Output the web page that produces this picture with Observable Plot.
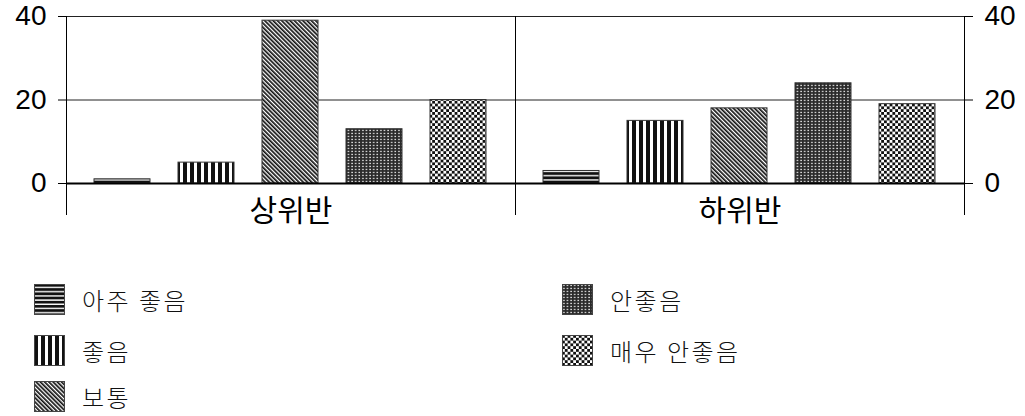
<!DOCTYPE html>
<html>
<head>
<meta charset="utf-8">
<script src="https://cdn.jsdelivr.net/npm/d3@7"></script>
<script src="https://cdn.jsdelivr.net/npm/@observablehq/plot@0.6"></script>
<style>
  html, body { margin: 0; padding: 0; background: #fff; }
  #wrap { position: relative; width: 1025px; height: 416px; overflow: hidden; }
  #legend { position: absolute; left: 0; top: 0; width: 1025px; height: 416px; pointer-events: none; }
  .item { position: absolute; display: flex; align-items: center; }
  .item svg { display: block; }
  .item span { font-family: "Noto Sans CJK KR", "Noto Sans", sans-serif; font-weight: 300; font-size: 24px; letter-spacing: 2.5px; color: #111; margin-left: 17px; line-height: 1; }
</style>
</head>
<body>
<svg width="0" height="0" style="position:absolute">
  <defs>
    <pattern id="p0" patternUnits="userSpaceOnUse" width="8" height="4.2">
      <rect width="8" height="4.2" fill="#fff"/>
      <rect y="0" width="8" height="2.8" fill="#111"/>
    </pattern>
    <pattern id="p1" patternUnits="userSpaceOnUse" width="7" height="8">
      <rect width="7" height="8" fill="#fff"/>
      <rect x="0" width="4" height="8" fill="#111"/>
    </pattern>
    <pattern id="p2" patternUnits="userSpaceOnUse" width="3" height="8" patternTransform="rotate(-45)">
      <rect width="3" height="8" fill="#fff"/>
      <rect width="1.7" height="8" fill="#111"/>
    </pattern>
    <pattern id="p3" patternUnits="userSpaceOnUse" width="3.6" height="3">
      <rect width="3.6" height="3" fill="#2a2a2a"/>
      <rect x="1.2" y="0.8" width="1.4" height="1.3" fill="#f4f4f4"/>
    </pattern>
    <pattern id="p4" patternUnits="userSpaceOnUse" width="5.6" height="5.6">
      <rect width="5.6" height="5.6" fill="#fff"/>
      <rect width="2.8" height="2.8" fill="#111"/>
      <rect x="2.8" y="2.8" width="2.8" height="2.8" fill="#111"/>
    </pattern>
  </defs>
</svg>
<div id="wrap">
  <div id="chart"></div>
  <div id="legend"></div>
</div>
<script>
// ---- data ----
const groups = ["상위반", "하위반"];
const categories = ["아주 좋음", "좋음", "보통", "안좋음", "매우 안좋음"];
const upperValues = [1, 5, 39, 13, 20];   // 상위반
const lowerValues = [3, 15, 18, 24, 19];  // 하위반
const yTicks = [0, 20, 40];
const patterns = ["url(#p0)", "url(#p1)", "url(#p2)", "url(#p3)", "url(#p4)"];

const table = [];
categories.forEach((c, i) => table.push({group: groups[0], cat: c, value: upperValues[i]}));
categories.forEach((c, i) => table.push({group: groups[1], cat: c, value: lowerValues[i]}));

const tickFont = "Liberation Sans, Arial, sans-serif";
const korFont = "Noto Sans CJK KR, Noto Sans, sans-serif";

const chart = Plot.plot({
  width: 1025,
  height: 245,
  marginLeft: 65,
  marginRight: 61,
  marginTop: 16,
  marginBottom: 62,
  style: {background: "transparent", overflow: "visible"},
  fx: {domain: groups, padding: 0, axis: null},
  x: {domain: categories, padding: 0.33, axis: null},
  y: {domain: [0, 40], axis: null},
  color: {domain: categories, range: patterns},
  marks: [
    Plot.ruleY([20, 40], {stroke: "#222", strokeWidth: 1}),
    Plot.barY(table, {fx: "group", x: "cat", y: "value", fill: "cat", stroke: "#333", strokeWidth: 1}),
    Plot.ruleY([0], {stroke: "#000", strokeWidth: 2}),
    Plot.frame({anchor: "left", insetBottom: -31, stroke: "#000", strokeWidth: 1}),
    Plot.frame({anchor: "right", insetBottom: -31, stroke: "#000", strokeWidth: 1}),
    Plot.axisY({anchor: "left", ticks: yTicks, label: null, tickSize: 8, tickPadding: 12, fontSize: 28, fontFamily: tickFont, color: "#000", tickFormat: d => String(d)}),
    Plot.axisY({anchor: "right", ticks: yTicks, label: null, tickSize: 8, tickPadding: 12, fontSize: 28, fontFamily: tickFont, color: "#000", tickFormat: d => String(d)}),
    Plot.axisFx({anchor: "bottom", tickSize: 0, tickPadding: 16, fontSize: 30, fontFamily: korFont, label: null, color: "#000"})
  ]
});
document.getElementById("chart").appendChild(chart);

// ---- legend (HTML, below the SVG) ----
const legend = document.getElementById("legend");
const slots = [
  {left: 34, top: 284}, {left: 34, top: 335}, {left: 34, top: 381},
  {left: 562, top: 284}, {left: 562, top: 335}
];
categories.forEach((c, i) => {
  const el = document.createElement("div");
  el.className = "item";
  el.style.left = slots[i].left + "px";
  el.style.top = slots[i].top + "px";
  el.innerHTML = `<svg width="31" height="31"><rect x="0.5" y="0.5" width="30" height="30" fill="${patterns[i]}" stroke="#444" stroke-width="1"/></svg><span>${c}</span>`;
  legend.appendChild(el);
});
</script>
</body>
</html>
